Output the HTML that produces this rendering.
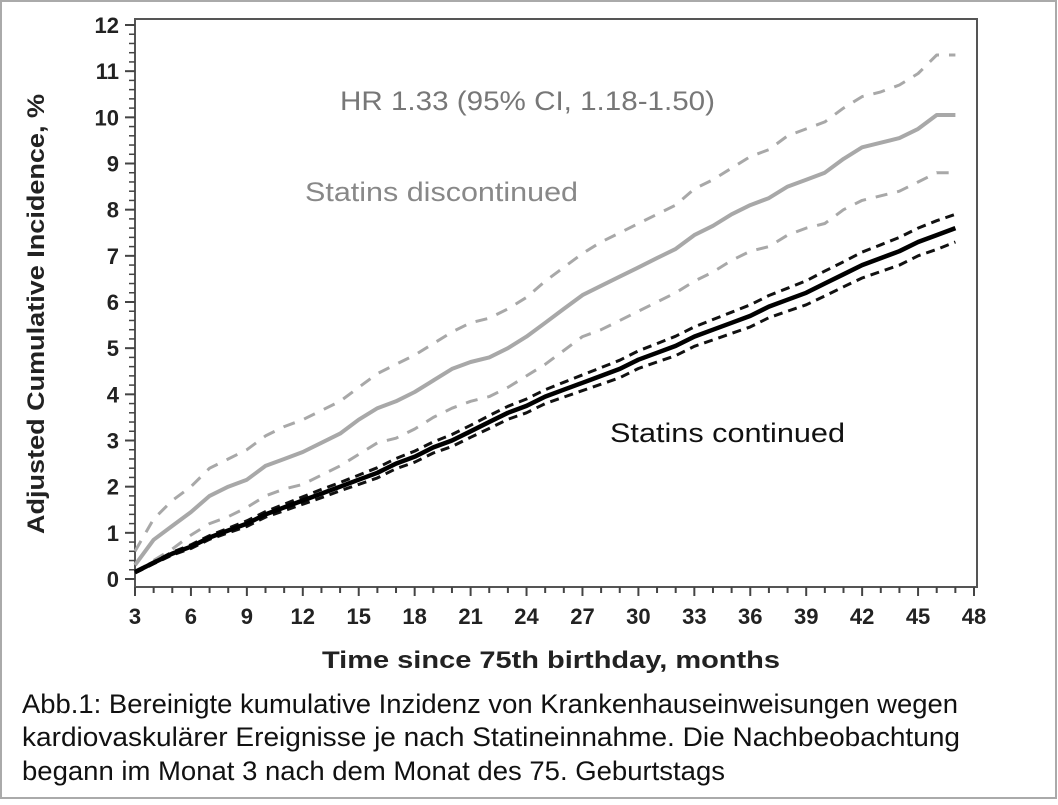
<!DOCTYPE html>
<html><head><meta charset="utf-8">
<style>
html,body{margin:0;padding:0;background:#fff;}
svg{display:block;}
text{font-family:"Liberation Sans",Arial,sans-serif;}
</style></head>
<body>
<svg id="chart" width="1058" height="805" viewBox="0 0 1058 805" xmlns="http://www.w3.org/2000/svg">
  <rect x="1" y="1" width="1055" height="797" fill="#fff" stroke="#aaa" stroke-width="2"/>
  <rect x="135" y="19" width="842" height="568" fill="none" stroke="#555" stroke-width="2"/>
  <g id="axes"></g>
  <g id="series"></g>
  <text x="44" y="314" transform="rotate(-90 44 314)" text-anchor="middle" font-size="24" font-weight="bold" fill="#222" textLength="440" lengthAdjust="spacingAndGlyphs">Adjusted Cumulative Incidence, %</text>
  <text x="322" y="668" font-size="24" font-weight="bold" fill="#222" textLength="458" lengthAdjust="spacingAndGlyphs">Time since 75th birthday, months</text>
  <text x="340" y="110" font-size="27" fill="#777" textLength="375" lengthAdjust="spacingAndGlyphs">HR 1.33 (95% CI, 1.18-1.50)</text>
  <text x="305" y="201" font-size="27" fill="#888" textLength="273" lengthAdjust="spacingAndGlyphs">Statins discontinued</text>
  <text x="610" y="442" font-size="27" fill="#111" textLength="235" lengthAdjust="spacingAndGlyphs">Statins continued</text>
  <text x="22" y="713" font-size="27" fill="#111" textLength="936" lengthAdjust="spacingAndGlyphs">Abb.1: Bereinigte kumulative Inzidenz von Krankenhauseinweisungen wegen</text>
  <text x="22" y="746" font-size="27" fill="#111" textLength="938" lengthAdjust="spacingAndGlyphs">kardiovaskulärer Ereignisse je nach Statineinnahme. Die Nachbeobachtung</text>
  <text x="22" y="780" font-size="27" fill="#111" textLength="703" lengthAdjust="spacingAndGlyphs">begann im Monat 3 nach dem Monat des 75. Geburtstags</text>
</svg>
<script>
const months = [3,4,5,6,7,8,9,10,11,12,13,14,15,16,17,18,19,20,21,22,23,24,25,26,27,28,29,30,31,32,33,34,35,36,37,38,39,40,41,42,43,44,45,46,47];
const discontinued = [0.3,0.85,1.15,1.45,1.8,2.0,2.15,2.45,2.6,2.75,2.95,3.15,3.45,3.7,3.85,4.05,4.3,4.55,4.7,4.8,5.0,5.25,5.55,5.85,6.15,6.35,6.55,6.75,6.95,7.15,7.45,7.65,7.9,8.1,8.25,8.5,8.65,8.8,9.1,9.35,9.45,9.55,9.75,10.05,10.05];
const discUpper = [0.6,1.3,1.7,2.0,2.4,2.6,2.8,3.1,3.3,3.45,3.65,3.85,4.15,4.45,4.65,4.85,5.1,5.35,5.55,5.65,5.85,6.1,6.45,6.75,7.05,7.3,7.5,7.7,7.9,8.1,8.45,8.65,8.9,9.15,9.3,9.6,9.75,9.9,10.2,10.45,10.55,10.7,10.95,11.35,11.35];
const discLower = [0.15,0.4,0.65,0.95,1.2,1.35,1.55,1.8,1.95,2.05,2.25,2.45,2.7,2.95,3.05,3.25,3.5,3.7,3.85,3.95,4.15,4.4,4.65,4.95,5.25,5.4,5.6,5.8,6.0,6.2,6.45,6.65,6.9,7.1,7.2,7.45,7.6,7.7,8.0,8.2,8.3,8.4,8.6,8.8,8.8];
const continued = [0.15,0.35,0.55,0.7,0.9,1.05,1.2,1.4,1.55,1.7,1.85,2.0,2.15,2.3,2.5,2.65,2.85,3.0,3.2,3.4,3.6,3.75,3.95,4.1,4.25,4.4,4.55,4.75,4.9,5.05,5.25,5.4,5.55,5.7,5.9,6.05,6.2,6.4,6.6,6.8,6.95,7.1,7.3,7.45,7.6];
const contUpper = [0.17,0.37,0.58,0.74,0.94,1.1,1.26,1.46,1.62,1.78,1.94,2.09,2.25,2.41,2.61,2.77,2.97,3.13,3.33,3.54,3.74,3.9,4.1,4.26,4.42,4.58,4.74,4.94,5.1,5.26,5.46,5.62,5.78,5.94,6.14,6.3,6.46,6.67,6.87,7.08,7.24,7.4,7.6,7.76,7.9];
const contLower = [0.13,0.33,0.52,0.66,0.86,1.0,1.14,1.34,1.48,1.62,1.76,1.91,2.05,2.19,2.39,2.53,2.73,2.87,3.07,3.26,3.46,3.6,3.8,3.94,4.08,4.22,4.36,4.56,4.7,4.84,5.04,5.18,5.32,5.46,5.66,5.8,5.94,6.13,6.33,6.52,6.66,6.8,7.0,7.14,7.3];
const xTicks = [3,6,9,12,15,18,21,24,27,30,33,36,39,42,45,48];
const yTicks = [0,1,2,3,4,5,6,7,8,9,10,11,12];

const NS = "http://www.w3.org/2000/svg";
const X = m => 135 + (m - 3) * (839 / 45);
const Y = v => 579 - v * (554 / 12);
const axes = document.getElementById('axes');
const series = document.getElementById('series');
function mk(tag, attrs, parent){const e=document.createElementNS(NS,tag);for(const k in attrs)e.setAttribute(k,attrs[k]);parent.appendChild(e);return e;}

for (let m = 3; m <= 48; m++) {
  const major = xTicks.includes(m);
  const t = mk('line',{x1:X(m),x2:X(m),y1:587,y2:major?596:593,stroke:'#444','stroke-width':2},axes);
  
  
}
xTicks.forEach(m => {
  const t = mk('text',{x:X(m),y:624,'text-anchor':'middle','font-size':22,'font-weight':'bold',fill:'#222'},axes);
  t.textContent = m;
  
  
});
for (let i = 0; i <= 60; i++) {
  const v = i / 5;
  const major = i % 5 === 0;
  const t = mk('line',{x1:major?125:129,x2:135,y1:Y(v),y2:Y(v),stroke:'#444','stroke-width':major?2:1.5},axes);
  
  
}
yTicks.forEach(v => {
  const t = mk('text',{x:119,y:Y(v)+8,'text-anchor':'end','font-size':22,'font-weight':'bold',fill:'#222'},axes);
  t.textContent = v;
  
  
});

function line(vals, style, name){
  const d = vals.map((v,i)=>(i?'L':'M')+X(months[i]).toFixed(1)+','+Y(v).toFixed(1)).join(' ');
  const p = mk('path',Object.assign({d:d,fill:'none','stroke-linejoin':'round'},style),series);
  
  
}
line(discUpper,{stroke:'#a8a8a8','stroke-width':3,'stroke-dasharray':'12 10'},'discontinued-upper-ci');
line(discLower,{stroke:'#a8a8a8','stroke-width':3,'stroke-dasharray':'12 10'},'discontinued-lower-ci');
line(discontinued,{stroke:'#a8a8a8','stroke-width':4},'discontinued-line');
line(contUpper,{stroke:'#111','stroke-width':3,'stroke-dasharray':'9 6'},'continued-upper-ci');
line(contLower,{stroke:'#111','stroke-width':3,'stroke-dasharray':'9 6'},'continued-lower-ci');
line(continued,{stroke:'#000','stroke-width':4.5},'continued-line');
</script>
</body></html>
